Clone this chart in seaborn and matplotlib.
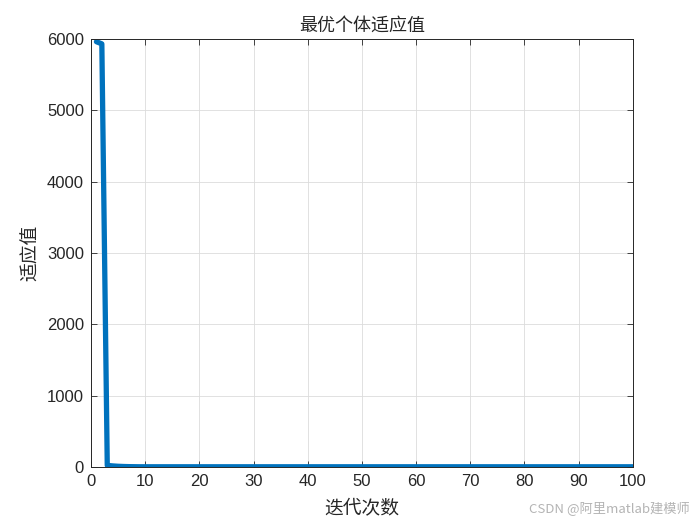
import numpy as np
import pandas as pd
import matplotlib
matplotlib.use("Agg")
import matplotlib.pyplot as plt
import seaborn as sns

# 迭代次数 1..100 与最优个体适应值
iterations = list(range(1, 101))
fitness = [5960, 5930, 22, 15, 10, 7, 5, 4] + [3] * 92

title = "最优个体适应值"
xlabel = "迭代次数"
ylabel = "适应值"
watermark = "CSDN @阿里matlab建模师"

df = pd.DataFrame({"iter": iterations, "fit": fitness})

sns.set_theme(style="white")
plt.rcParams["font.family"] = ["Liberation Sans", "Noto Sans CJK SC", "DejaVu Sans"]
cjk = ["Noto Sans CJK SC", "DejaVu Sans"]

fig = plt.figure(figsize=(7, 5.25), dpi=100)
ax = fig.add_axes([0.13, 0.1105, 0.774, 0.8155])

sns.lineplot(data=df, x="iter", y="fit", ax=ax, color="#0072BD", linewidth=3.8)

ax.set_xlim(0, 100)
ax.set_ylim(0, 6000)
ax.set_xticks(np.arange(0, 101, 10))
ax.set_yticks(np.arange(0, 6001, 1000))
ax.tick_params(axis="both", direction="in", length=4, width=0.6, labelsize=12,
               top=True, right=True, bottom=True, left=True, colors="#262626",
               labelcolor="#262626", pad=5)
ax.grid(True, color="#dcdcdc", linewidth=0.6)
for s in ax.spines.values():
    s.set_color("#262626")
    s.set_linewidth(0.7)

ax.set_title(title, family=cjk, fontsize=13, color="#262626", pad=6)
ax.set_xlabel(xlabel, family=cjk, fontsize=13.5, color="#262626", labelpad=7)
ax.set_ylabel(ylabel, family=cjk, fontsize=13.5, color="#262626", labelpad=4)

fig.text(0.985, 0.018, watermark, family=cjk, fontsize=9.5, color="#b4b4b4",
         ha="right", va="bottom")

fig.savefig("out.png", dpi=100)
